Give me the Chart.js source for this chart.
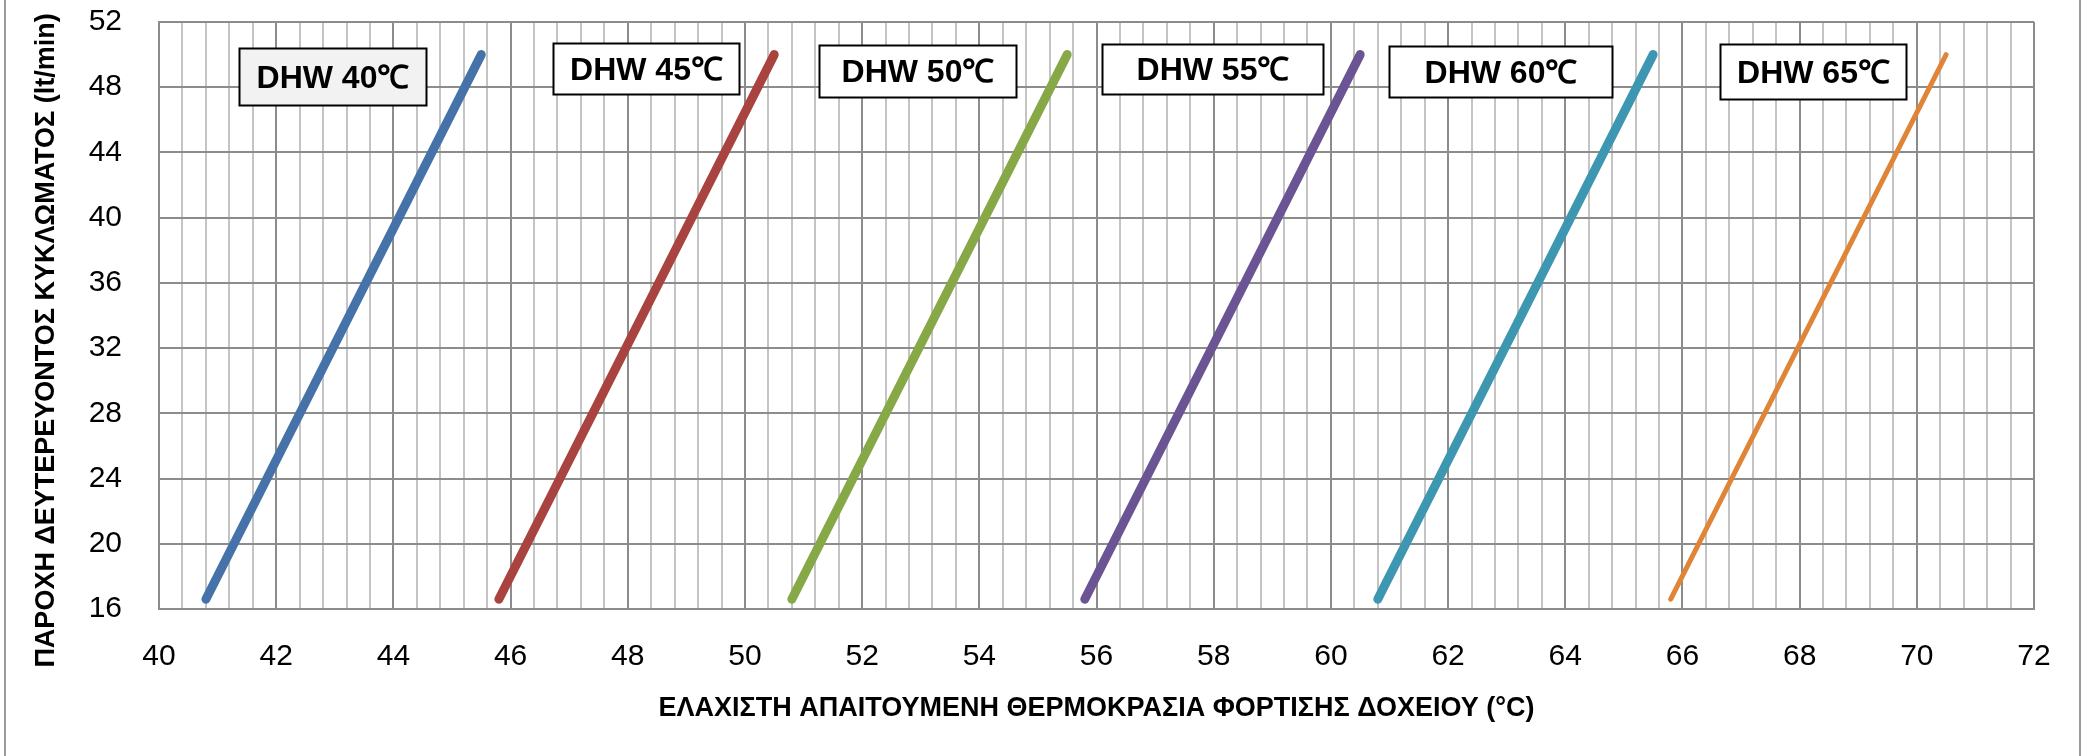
<!DOCTYPE html>
<html>
<head>
<meta charset="utf-8">
<script src="https://cdn.jsdelivr.net/npm/chart.js@4.4.1/dist/chart.umd.min.js"></script>
<style>
  html, body { margin: 0; padding: 0; background: #ffffff; }
  canvas { display: block; }
</style>
</head>
<body>
<canvas id="dhwChart" width="2085" height="756"></canvas>
<script>
// Secondary-circuit flow range (lt/min) covered by every curve
const flowRange = [16.6, 50];

// Minimum tank charging temperature (°C) at the low and high end of the flow range
const temps40 = [40.8, 45.5];
const temps45 = [45.8, 50.5];
const temps50 = [50.8, 55.5];
const temps55 = [55.8, 60.5];
const temps60 = [60.8, 65.5];
const temps65 = [65.8, 70.5];

const seriesNames = ['DHW 40℃', 'DHW 45℃', 'DHW 50℃', 'DHW 55℃', 'DHW 60℃', 'DHW 65℃'];
const seriesTemps = [temps40, temps45, temps50, temps55, temps60, temps65];

// Axis limits and tick labels
const xRange = [40, 72];
const yRange = [16, 52];
const xTickLabels = [40, 42, 44, 46, 48, 50, 52, 54, 56, 58, 60, 62, 64, 66, 68, 70, 72];
const yTickLabels = [16, 20, 24, 28, 32, 36, 40, 44, 48, 52];

const xTitle = 'ΕΛΑΧΙΣΤΗ ΑΠΑΙΤΟΥΜΕΝΗ ΘΕΡΜΟΚΡΑΣΙΑ ΦΟΡΤΙΣΗΣ ΔΟΧΕΙΟΥ (°C)';
const yTitle = 'ΠΑΡΟΧΗ ΔΕΥΤΕΡΕΥΟΝΤΟΣ ΚΥΚΛΩΜΑΤΟΣ (lt/min)';

// Styling
const lineColors = ['#4572a9', '#a9433f', '#87a846', '#6a5494', '#3d97b1', '#e08537'];
const lineWidths = [9, 9, 9, 9, 9, 5];

// Callout boxes for each curve, in axis units: [xLeft, xRight, yTop, yBottom]
const calloutBoxes = [
  [41.37, 44.56, 50.40, 46.91],
  [46.72, 49.90, 50.71, 47.58],
  [51.26, 54.63, 50.59, 47.40],
  [56.09, 59.87, 50.65, 47.58],
  [60.99, 64.80, 50.53, 47.40],
  [66.64, 69.82, 50.65, 47.28]
];
const calloutFills = ['#f2f2f2', '#ffffff', '#ffffff', '#ffffff', '#ffffff', '#ffffff'];

const datasets = seriesNames.map((name, i) => ({
  label: name,
  data: seriesTemps[i].map((t, k) => ({ x: t, y: flowRange[k] })),
  borderColor: lineColors[i],
  backgroundColor: lineColors[i],
  borderWidth: lineWidths[i],
  borderCapStyle: 'round',
  borderJoinStyle: 'round',
  pointRadius: 0,
  pointHoverRadius: 0,
  showLine: true,
  fill: false,
  tension: 0
}));

const isMajorX = v => xTickLabels.some(t => Math.abs(t - v) < 1e-6);

// Side frame lines, axis titles and the callout boxes
const decorPlugin = {
  id: 'decor',
  beforeDraw(chart) {
    const ctx = chart.ctx;
    ctx.save();
    ctx.fillStyle = '#ffffff';
    ctx.fillRect(0, 0, chart.width, chart.height);
    ctx.strokeStyle = '#9a9a9a';
    ctx.lineWidth = 2;
    ctx.beginPath();
    ctx.moveTo(5, 0); ctx.lineTo(5, chart.height);
    ctx.moveTo(2080, 0); ctx.lineTo(2080, chart.height);
    ctx.stroke();
    ctx.restore();
  },
  afterDatasetsDraw(chart) {
    const ctx = chart.ctx;
    const xs = chart.scales.x, ys = chart.scales.y;
    ctx.save();
    ctx.font = 'bold 32px "Liberation Sans", Arial, sans-serif';
    ctx.textAlign = 'center';
    ctx.textBaseline = 'middle';
    calloutBoxes.forEach((b, i) => {
      const l = Math.round(xs.getPixelForValue(b[0])) + 0.5;
      const r = Math.round(xs.getPixelForValue(b[1])) + 0.5;
      const t = Math.round(ys.getPixelForValue(b[2])) + 0.5;
      const btm = Math.round(ys.getPixelForValue(b[3])) + 0.5;
      ctx.fillStyle = calloutFills[i];
      ctx.fillRect(l, t, r - l, btm - t);
      ctx.strokeStyle = '#000000';
      ctx.lineWidth = 2;
      ctx.strokeRect(l, t, r - l, btm - t);
      ctx.fillStyle = '#000000';
      ctx.fillText(seriesNames[i], (l + r) / 2, (t + btm) / 2 + 2);
    });
    ctx.restore();
  },
  afterDraw(chart) {
    const ctx = chart.ctx;
    const a = chart.chartArea;
    ctx.save();
    ctx.fillStyle = '#000000';
    ctx.textAlign = 'center';
    ctx.textBaseline = 'middle';
    ctx.font = 'bold 27px "Liberation Sans", Arial, sans-serif';
    ctx.fillText(xTitle, (a.left + a.right) / 2, a.bottom + 100);
    ctx.translate(a.left - 112, (a.top + a.bottom) / 2 + 25);
    ctx.rotate(-Math.PI / 2);
    ctx.font = 'bold 27px "Liberation Sans", Arial, sans-serif';
    ctx.fillText(yTitle, 0, 0);
    ctx.restore();
  }
};

new Chart(document.getElementById('dhwChart'), {
  type: 'scatter',
  data: { datasets },
  plugins: [decorPlugin],
  options: {
    responsive: false,
    animation: false,
    events: [],
    layout: { padding: { top: 22, right: 51, bottom: 0, left: 0 } },
    plugins: {
      legend: { display: false },
      tooltip: { enabled: false },
      title: { display: false }
    },
    scales: {
      x: {
        type: 'linear',
        min: xRange[0],
        max: xRange[1],
        afterFit(scale) {
          scale.height = 147;
          scale.paddingLeft = 0;
          scale.paddingRight = 0;
        },
        border: { display: true, color: '#8c8c8c', width: 2 },
        grid: {
          drawTicks: false,
          lineWidth: 2,
          color: ctx => (ctx.tick && isMajorX(ctx.tick.value)) ? '#8c8c8c' : '#c4c4c4'
        },
        ticks: {
          stepSize: 0.4,
          autoSkip: false,
          maxRotation: 0,
          padding: 30,
          color: '#000000',
          font: { family: '"Liberation Sans", Arial, sans-serif', size: 30 },
          callback: v => isMajorX(v) ? String(Math.round(v)) : ''
        }
      },
      y: {
        type: 'linear',
        min: yRange[0],
        max: yRange[1],
        afterFit(scale) {
          scale.width = 159;
          scale.paddingTop = 0;
          scale.paddingBottom = 0;
        },
        border: { display: true, color: '#8c8c8c', width: 2 },
        grid: { drawTicks: false, lineWidth: 2, color: '#8c8c8c' },
        ticks: {
          stepSize: 4,
          padding: 37,
          color: '#000000',
          font: { family: '"Liberation Sans", Arial, sans-serif', size: 30 },
          callback: v => yTickLabels.includes(v) ? String(v) : ''
        }
      }
    }
  }
});
</script>
</body>
</html>
